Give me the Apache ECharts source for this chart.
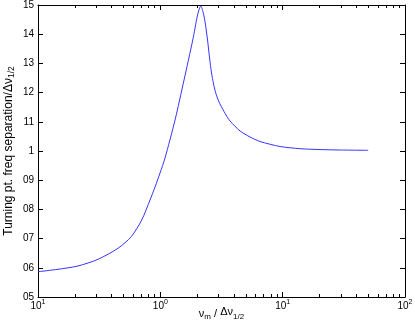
<!DOCTYPE html>
<html>
<head>
<meta charset="utf-8">
<script src="https://cdn.jsdelivr.net/npm/echarts@6/dist/echarts.min.js"></script>
<style>
  html, body { margin: 0; padding: 0; background: #fff; }
  #chart { width: 415px; height: 327px; }
</style>
</head>
<body>
<div id="chart"></div>
<script>
// curve: x = nu_m / dnu_1/2 (log), y = separation / dnu_1/2
const xValues = [0.1, 0.1457, 0.2124, 0.3095, 0.451, 0.5791, 0.7047, 0.8237, 0.9051, 0.9943, 1.0925, 1.319, 1.5622, 1.8407, 2.007, 2.092, 2.14,
  2.235, 2.3207, 2.432, 2.526, 2.622, 2.723, 2.854, 3.02, 3.196, 3.445, 3.7145, 4.4843, 5.4133, 6.5343, 9.521, 13.88, 19.48, 29.47, 50];
const yValues = [0.5866, 0.5949, 0.6062, 0.6291, 0.6668, 0.7068, 0.7637, 0.8322, 0.8767, 0.9247, 0.976, 1.1062, 1.2432, 1.3801, 1.4623, 1.4897, 1.4966,
  1.476, 1.4418, 1.3801, 1.3185, 1.2671, 1.2295, 1.1952, 1.1678, 1.1473, 1.1233, 1.1027, 1.0685, 1.0479, 1.0325, 1.0154, 1.0079, 1.0051, 1.0034, 1.0024];

const xMajorTicks = [0.1, 1, 10, 100];
const xTickExponents = ['1', '0', '1', '2'];
const xMinorTicks = [0.2, 0.3, 0.4, 0.5, 0.6, 0.7, 0.8, 0.9, 2, 3, 4, 5, 6, 7, 8, 9, 20, 30, 40, 50, 60, 70, 80, 90];
const yTickLabels = ['05', '06', '07', '08', '09', '1', '11', '12', '13', '14', '15'];

const chart = echarts.init(document.getElementById('chart'));

const font = 'Liberation Sans, Arial, Helvetica, sans-serif';
const black = '#000';

const xLabelFormatter = (v) => {
  const i = xMajorTicks.findIndex(t => Math.abs(Math.log10(t / v)) < 1e-6);
  return i < 0 ? '' : '{b|10}{s|' + xTickExponents[i] + '}';
};

const logAxis = (extra) => Object.assign({
  type: 'log',
  logBase: 10,
  min: 0.1,
  max: 100,
  splitLine: { show: false },
  axisLine: { show: true, lineStyle: { color: black, width: 1 } },
  axisLabel: { show: false },
  axisTick: { inside: true, length: 5, customValues: xMajorTicks, lineStyle: { color: black } }
}, extra);

const valAxis = (extra) => Object.assign({
  type: 'value',
  min: 0.5,
  max: 1.5,
  interval: 0.1,
  splitLine: { show: false },
  axisLine: { show: true, lineStyle: { color: black, width: 1 } },
  axisLabel: { show: false },
  axisTick: { inside: true, length: 5, lineStyle: { color: black } }
}, extra);

const gridBox = { left: 38, right: 10, top: 5, bottom: 30, outerBoundsMode: 'none', containLabel: false };

const option = {
  backgroundColor: '#fff',
  animation: false,
  textStyle: { fontFamily: font },
  grid: [Object.assign({}, gridBox), Object.assign({}, gridBox)],
  xAxis: [
    logAxis({
      gridIndex: 0,
      position: 'bottom',
      axisLabel: {
        show: true,
        margin: 3,
        customValues: xMajorTicks,
        formatter: xLabelFormatter,
        rich: {
          b: { fontSize: 10, fontFamily: font, color: black, lineHeight: 12 },
          s: { fontSize: 7, fontFamily: font, color: black, lineHeight: 7, padding: [0, 0, 8, 0] }
        }
      },
      name: '{a|ν}{sub|m}{a| / }{up|Δν}{sub|1/2}',
      nameLocation: 'middle',
      nameGap: 10,
      nameMoveOverlap: false,
      nameTextStyle: {
        rich: {
          a: { fontSize: 11, fontFamily: font, color: black, lineHeight: 13 },
          up: { fontSize: 11, fontFamily: font, color: black, lineHeight: 13, padding: [0, 0, 3, 0] },
          sub: { fontSize: 8, fontFamily: font, color: black, lineHeight: 8, padding: [6, 0, 0, 0] }
        }
      }
    }),
    logAxis({ gridIndex: 0, position: 'top' }),
    logAxis({
      gridIndex: 1, position: 'bottom', axisLine: { show: false },
      axisTick: { inside: true, length: 3, customValues: xMinorTicks, lineStyle: { color: black } }
    }),
    logAxis({
      gridIndex: 1, position: 'top', axisLine: { show: false },
      axisTick: { inside: true, length: 3, customValues: xMinorTicks, lineStyle: { color: black } }
    })
  ],
  yAxis: [
    valAxis({
      gridIndex: 0,
      position: 'left',
      axisLabel: {
        show: true,
        margin: 4,
        fontSize: 10,
        color: black,
        fontFamily: font,
        formatter: (v) => yTickLabels[Math.round(v * 10) - 5]
      },
      name: '{a|Turning pt. freq separation/Δν}{sub|1/2}',
      nameLocation: 'middle',
      nameGap: 22,
      nameMoveOverlap: false,
      nameTextStyle: {
        rich: {
          a: { fontSize: 12, fontFamily: font, color: black, lineHeight: 14 },
          sub: { fontSize: 8.5, fontFamily: font, color: black, lineHeight: 9, padding: [6, 0, 0, 0] }
        }
      }
    }),
    valAxis({ gridIndex: 0, position: 'right' }),
    valAxis({ gridIndex: 1, show: false })
  ],
  series: [
    {
      type: 'line',
      xAxisIndex: 0,
      yAxisIndex: 0,
      data: xValues.map((x, i) => [x, yValues[i]]),
      smooth: 0.25,
      showSymbol: false,
      lineStyle: { color: '#3535ff', width: 1 },
      silent: true
    }
  ]
};

chart.setOption(option);
</script>
</body>
</html>
